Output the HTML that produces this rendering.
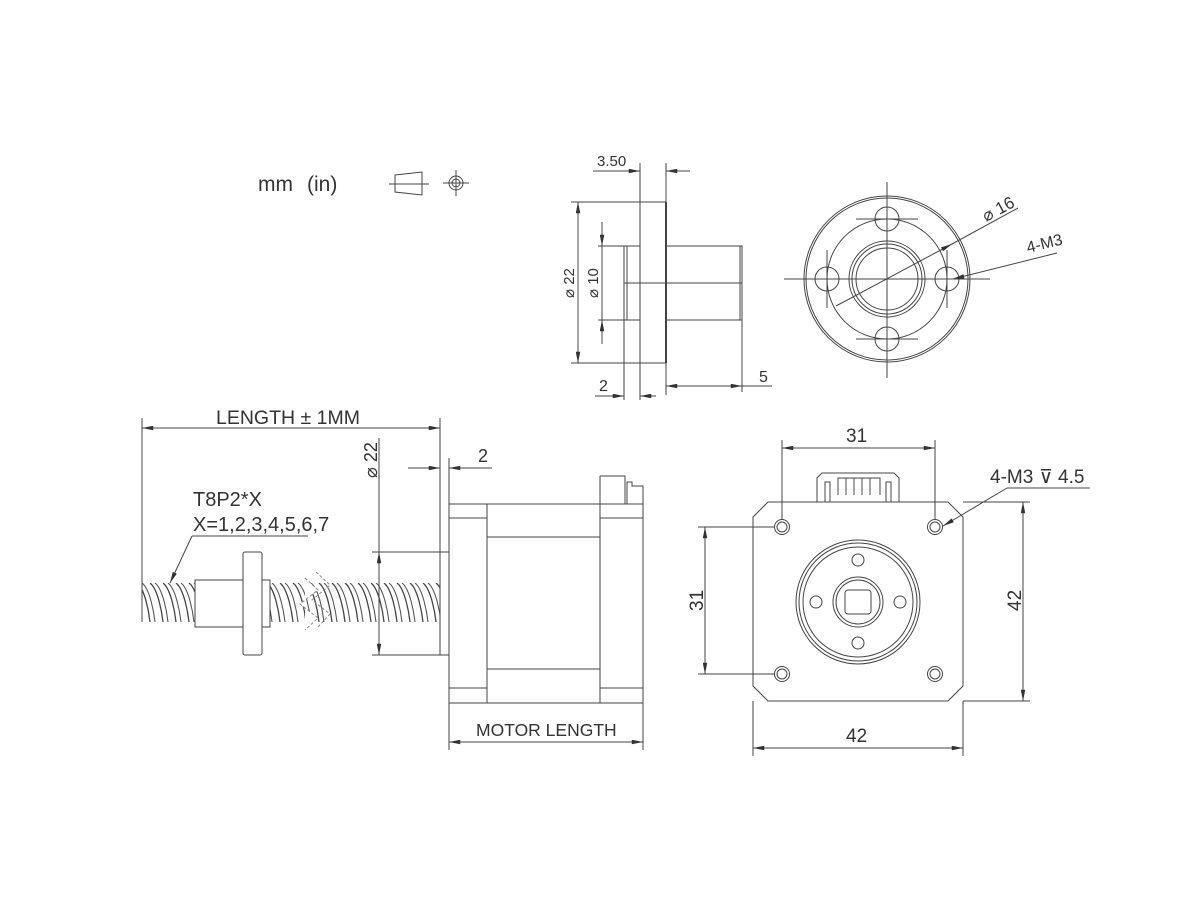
<!DOCTYPE html>
<html><head><meta charset="utf-8"><style>
html,body{margin:0;padding:0;background:#fff;}
svg{display:block;}
text{font-family:"Liberation Sans",sans-serif;fill:#333;}
</style></head><body>
<svg width="1200" height="900" viewBox="0 0 1200 900" xmlns="http://www.w3.org/2000/svg">
<defs>
<marker id="a" viewBox="0 0 10 4" refX="10" refY="2" markerWidth="15" markerHeight="4.5" markerUnits="userSpaceOnUse" orient="auto-start-reverse"><path d="M0,0 L10,2 L0,4 z" fill="#333"/></marker>
<pattern id="thr" x="0" y="583" width="13" height="39" patternUnits="userSpaceOnUse">
<path d="M-6,0 C2,6 6,30 7,39 M7,0 C15,6 19,30 20,39 M-19,0 C-11,6 -7,30 -6,39" fill="none" stroke="#444" stroke-width="1.3"/>
<path d="M-1,0 C7,6 11,30 12,39 M12,0 C20,6 24,30 25,39 M-14,0 C-6,6 -2,30 -1,39" fill="none" stroke="#555" stroke-width="1.1"/>
</pattern>
</defs>
<g stroke="#444" stroke-width="1" fill="none">
<path d="M395,175 L422,172 L422,195 L395,192 Z"/>
<line x1="389" y1="184" x2="429" y2="184"/>
<circle cx="456" cy="183" r="7"/><circle cx="456" cy="183" r="4"/>
<line x1="443" y1="183" x2="469" y2="183"/><line x1="456" y1="170" x2="456" y2="196"/>

<rect x="640" y="202" width="26" height="161"/>
<line x1="666" y1="202" x2="666" y2="363" stroke-width="2"/>
<path d="M640,246 H624 V320 H640"/><line x1="627" y1="246" x2="627" y2="320"/>
<path d="M666,246 H742 V320 H666"/><line x1="740" y1="246" x2="740" y2="320"/>
<line x1="624" y1="283" x2="742" y2="283"/>
<line x1="640" y1="163" x2="640" y2="400"/><line x1="666" y1="163" x2="666" y2="395"/>
<line x1="593" y1="171" x2="640" y2="171" marker-end="url(#a)"/><line x1="690" y1="171" x2="666" y2="171" marker-end="url(#a)"/>
<line x1="571" y1="202" x2="640" y2="202"/><line x1="571" y1="363" x2="640" y2="363"/>
<line x1="578" y1="283" x2="578" y2="202" marker-end="url(#a)"/><line x1="578" y1="283" x2="578" y2="363" marker-end="url(#a)"/>
<line x1="598" y1="246" x2="624" y2="246"/><line x1="598" y1="320" x2="624" y2="320"/>
<line x1="602" y1="222" x2="602" y2="246" marker-end="url(#a)"/><line x1="602" y1="344" x2="602" y2="320" marker-end="url(#a)"/>
<line x1="602" y1="246" x2="602" y2="320"/>
<line x1="624" y1="320" x2="624" y2="400"/>
<line x1="595" y1="396" x2="624" y2="396" marker-end="url(#a)"/><line x1="656" y1="396" x2="640" y2="396" marker-end="url(#a)"/>
<line x1="742" y1="320" x2="742" y2="392"/>
<line x1="704" y1="386" x2="666" y2="386" marker-end="url(#a)"/><line x1="704" y1="386" x2="742" y2="386" marker-end="url(#a)"/><line x1="742" y1="386" x2="772" y2="386"/>

<circle cx="887" cy="279" r="83"/><circle cx="887" cy="279" r="81"/>
<circle cx="887" cy="279" r="60"/>
<circle cx="887" cy="279" r="38"/><circle cx="887" cy="279" r="35"/><circle cx="887" cy="279" r="31"/>
<circle cx="827" cy="279" r="12"/><circle cx="947" cy="279" r="12"/><circle cx="887" cy="219" r="12"/><circle cx="887" cy="339" r="12"/>
<line x1="887" y1="182" x2="887" y2="378"/><line x1="784" y1="279" x2="990" y2="279"/>
<line x1="856" y1="219" x2="918" y2="219"/><line x1="856" y1="339" x2="918" y2="339"/>
<line x1="827" y1="250" x2="827" y2="308"/><line x1="947" y1="250" x2="947" y2="308"/>
<line x1="867" y1="279" x2="907" y2="279"/><line x1="887" y1="259" x2="887" y2="299"/>
<line x1="836" y1="306" x2="952" y2="244" marker-end="url(#a)"/><line x1="952" y1="244" x2="1018" y2="208"/>
<line x1="1057" y1="253" x2="953" y2="279" marker-end="url(#a)"/>

<rect x="142" y="583" width="53" height="39" fill="url(#thr)" stroke="none"/>
<rect x="270" y="583" width="170" height="39" fill="url(#thr)" stroke="none"/>
<line x1="142" y1="583" x2="142" y2="622"/>
<rect x="195" y="580" width="48" height="47" fill="#fff"/>
<rect x="243" y="552" width="19" height="103" rx="2" fill="#fff"/>
<rect x="262" y="580" width="8" height="47" fill="#fff"/>
<path d="M305,578 L318,590 L300,604 L318,618 L305,630" stroke="#888" stroke-dasharray="3,2" fill="#fff"/>
<path d="M316,572 L330,585 L312,600 L330,614 L317,628" stroke="#888" stroke-dasharray="3,2"/>
<rect x="440" y="552" width="9" height="103" fill="#fff"/>
<rect x="449" y="504" width="194" height="199"/>
<line x1="487" y1="504" x2="487" y2="703"/><line x1="600" y1="476" x2="600" y2="703"/>
<line x1="449" y1="518" x2="487" y2="518"/><line x1="600" y1="518" x2="643" y2="518"/>
<line x1="449" y1="688" x2="487" y2="688"/><line x1="600" y1="688" x2="643" y2="688"/>
<line x1="487" y1="537" x2="600" y2="537"/><line x1="487" y1="669" x2="600" y2="669"/>
<path d="M600,476 H625 V504"/><path d="M627,504 V482 H632 V486 H643 V504"/>
<line x1="142" y1="418" x2="142" y2="622"/><line x1="440" y1="418" x2="440" y2="552"/>
<line x1="290" y1="428" x2="142" y2="428" marker-end="url(#a)"/><line x1="290" y1="428" x2="440" y2="428" marker-end="url(#a)"/>
<line x1="372" y1="552" x2="440" y2="552"/><line x1="372" y1="655" x2="440" y2="655"/>
<line x1="379" y1="438" x2="379" y2="552"/>
<line x1="379" y1="604" x2="379" y2="552" marker-end="url(#a)"/><line x1="379" y1="604" x2="379" y2="655" marker-end="url(#a)"/>
<line x1="449" y1="458" x2="449" y2="504"/><line x1="440" y1="458" x2="440" y2="552"/>
<line x1="408" y1="468" x2="440" y2="468" marker-end="url(#a)"/><line x1="492" y1="468" x2="449" y2="468" marker-end="url(#a)"/>
<line x1="449" y1="703" x2="449" y2="750"/><line x1="643" y1="703" x2="643" y2="750"/>
<line x1="546" y1="742" x2="449" y2="742" marker-end="url(#a)"/><line x1="546" y1="742" x2="643" y2="742" marker-end="url(#a)"/>
<line x1="308" y1="536" x2="192" y2="536"/><line x1="192" y1="536" x2="170" y2="583" marker-end="url(#a)"/>

<path d="M768,502 H948 L963,517 V686 L948,701 H768 L753,686 V517 Z"/>
<circle cx="782" cy="527" r="7.5"/><circle cx="782" cy="527" r="5"/>
<circle cx="935" cy="527" r="7.5"/><circle cx="935" cy="527" r="5"/>
<circle cx="782" cy="674" r="7.5"/><circle cx="782" cy="674" r="5"/>
<circle cx="935" cy="674" r="7.5"/><circle cx="935" cy="674" r="5"/>
<circle cx="858" cy="602" r="62"/><circle cx="858" cy="602" r="59"/><circle cx="858" cy="602" r="55"/>
<circle cx="858" cy="560" r="6"/><circle cx="858" cy="643" r="6"/><circle cx="816" cy="602" r="6"/><circle cx="900" cy="602" r="6"/>
<circle cx="858" cy="602" r="25"/><circle cx="858" cy="602" r="22"/>
<rect x="845" y="590" width="26" height="24" rx="3"/>
<path d="M817,502 V478 L822,473 H894 L899,478 V502"/>
<path d="M825,502 V482 H830 V502 M886,502 V482 H891 V502"/>
<path d="M838,495 V478 H880 V495 M846,478 V495 M854,478 V495 M862,478 V495 M870,478 V495"/>
<line x1="782" y1="440" x2="782" y2="520"/><line x1="935" y1="440" x2="935" y2="520"/>
<line x1="858" y1="448" x2="782" y2="448" marker-end="url(#a)"/><line x1="858" y1="448" x2="935" y2="448" marker-end="url(#a)"/>
<line x1="963" y1="502" x2="1030" y2="502"/><line x1="963" y1="701" x2="1030" y2="701"/>
<line x1="1023" y1="600" x2="1023" y2="502" marker-end="url(#a)"/><line x1="1023" y1="600" x2="1023" y2="701" marker-end="url(#a)"/>
<line x1="698" y1="527" x2="775" y2="527"/><line x1="698" y1="674" x2="775" y2="674"/>
<line x1="705" y1="600" x2="705" y2="527" marker-end="url(#a)"/><line x1="705" y1="600" x2="705" y2="674" marker-end="url(#a)"/>
<line x1="753" y1="701" x2="753" y2="756"/><line x1="963" y1="701" x2="963" y2="756"/>
<line x1="858" y1="748" x2="753" y2="748" marker-end="url(#a)"/><line x1="858" y1="748" x2="963" y2="748" marker-end="url(#a)"/>
<line x1="1090" y1="488" x2="1007" y2="488"/><line x1="1007" y1="488" x2="943" y2="526" marker-end="url(#a)"/>
</g>

<g>
<text x="258" y="191" font-size="21">mm</text><text x="307" y="191" font-size="21">(in)</text>
<text x="597" y="166" font-size="15">3.50</text>
<text x="0" y="0" font-size="15" transform="translate(574,298) rotate(-90)">⌀ 22</text>
<text x="0" y="0" font-size="15" transform="translate(598,298) rotate(-90)">⌀ 10</text>
<text x="599" y="391" font-size="16">2</text>
<text x="759" y="382" font-size="16">5</text>
<text x="0" y="0" font-size="17" transform="translate(986,222) rotate(-28)">⌀ 16</text>
<text x="0" y="0" font-size="16" transform="translate(1028,253) rotate(-14)">4-M3</text>
<text x="216" y="424" font-size="19.5">LENGTH ± 1MM</text>
<text x="193" y="506" font-size="20">T8P2*X</text>
<text x="193" y="531" font-size="20">X=1,2,3,4,5,6,7</text>
<text x="0" y="0" font-size="18" transform="translate(377,478) rotate(-90)">⌀ 22</text>
<text x="478" y="462" font-size="18">2</text>
<text x="476" y="736" font-size="17.5">MOTOR  LENGTH</text>
<text x="846" y="442" font-size="19">31</text>
<text x="990" y="483" font-size="19">4-M3</text><text x="1039" y="483" font-size="19">⊽</text><text x="1058" y="483" font-size="19">4.5</text>
<text x="0" y="0" font-size="19" transform="translate(1021,611) rotate(-90)">42</text>
<text x="0" y="0" font-size="19" transform="translate(703,611) rotate(-90)">31</text>
<text x="846" y="742" font-size="19">42</text>
</g>
</svg>
</body></html>
